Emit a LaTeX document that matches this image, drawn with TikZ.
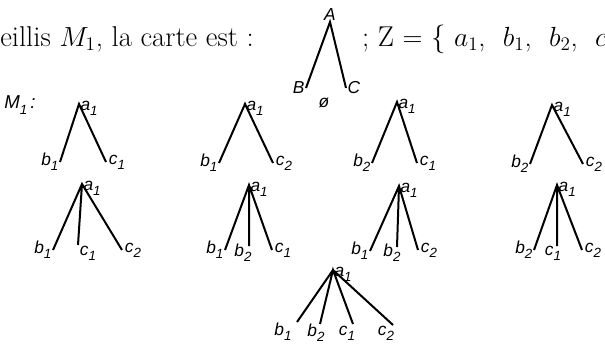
\documentclass[tikz,border=0pt]{standalone}
\usepackage{fontspec}
\usepackage{amsmath}
\usetikzlibrary{positioning}
\newfontfamily\plume{Liberation Sans}
\newcommand\sommet[2]{#1\raisebox{-0.55ex}{\fontsize{10}{10}\selectfont #2}}

\begin{document}
\begin{tikzpicture}[
    x=0.75pt,y=-0.75pt,
    arete/.style = {line width=1.5pt},
    et/.style    = {font=\fontsize{13}{13}\selectfont\plume\itshape, inner sep=0pt},
    texte/.style = {font=\fontsize{21.5}{24}\selectfont, inner sep=0pt},
  ]
  \useasboundingbox (0,0) rectangle (605,344);

  % ligne du haut
  \node[texte,anchor=base west] (gauche) at (0,46) {eillis $M_1$, la carte est :};
  \node[texte,anchor=base east] (droite) at (607,46)
       {;\ Z $=$ \{\ $a_1$,\ \ $b_1$,\ \ $b_2$,\ \ $c$};

  \coordinate (sA) at (330,22);
  \coordinate (sB) at (306,88);
  \coordinate (sC) at (346,88);
  \node[et,above=1pt of sA] (eA) {A};
  \node[et,left=1pt of sB]  (eB) {B};
  \node[et,right=1pt of sC] (eC) {C};
  \node[et] (vide) at (324,103) {ø};
  \draw[arete] (sB) -- (sA) -- (sC);

  \node[et,anchor=west,font=\fontsize{14}{14}\selectfont\plume\itshape] (m1) at (4,105)
       {\sommet{M}{1}\,:};

  % rangée 1
  \coordinate (s11) at (79,104);  \coordinate (s11b) at (60,162);  \coordinate (s11c) at (106,162);
  \coordinate (s12) at (245,104); \coordinate (s12b) at (219,163); \coordinate (s12c) at (273,163);
  \coordinate (s13) at (397,102); \coordinate (s13b) at (372,163); \coordinate (s13c) at (417,163);
  \coordinate (s14) at (552,105); \coordinate (s14b) at (530,164); \coordinate (s14c) at (583,164);

  \node[et,left=1pt of s11b]  (e11b) {\sommet{b}{1}};
  \node[et,right=2pt of s11c] (e11c) {\sommet{c}{1}};
  \node[et,left=1pt of s12b]  (e12b) {\sommet{b}{1}};
  \node[et,right=2pt of s12c] (e12c) {\sommet{c}{2}};
  \node[et,left=1pt of s13b]  (e13b) {\sommet{b}{2}};
  \node[et,right=2pt of s13c] (e13c) {\sommet{c}{1}};
  \node[et,left=1pt of s14b]  (e14b) {\sommet{b}{2}};
  \node[et,right=2pt of s14c] (e14c) {\sommet{c}{2}};

  % rangée 2
  \coordinate (s21) at (82,184);
  \coordinate (s21b) at (53,250); \coordinate (s21c) at (78,245); \coordinate (s21d) at (122,250);
  \coordinate (s22) at (249,185);
  \coordinate (s22b) at (225,250); \coordinate (s22c) at (249,246); \coordinate (s22d) at (272,250);
  \coordinate (s23) at (399,186);
  \coordinate (s23b) at (370,251); \coordinate (s23c) at (397,247); \coordinate (s23d) at (418,250);
  \coordinate (s24) at (557,185);
  \coordinate (s24b) at (534,250); \coordinate (s24c) at (557,246); \coordinate (s24d) at (582,250);

  \node[et,left=1pt of s21b]  (e21b) {\sommet{b}{1}};
  \node[et] (e21c) at (88,253)       {\sommet{c}{1}};
  \node[et,right=2pt of s21d] (e21d) {\sommet{c}{2}};
  \node[et,left=1pt of s22b]  (e22b) {\sommet{b}{1}};
  \node[et] (e22c) at (243,253)      {\sommet{b}{2}};
  \node[et,right=2pt of s22d] (e22d) {\sommet{c}{1}};
  \node[et,left=1pt of s23b]  (e23b) {\sommet{b}{1}};
  \node[et] (e23c) at (392,253)      {\sommet{b}{2}};
  \node[et,right=2pt of s23d] (e23d) {\sommet{c}{2}};
  \node[et,left=1pt of s24b]  (e24b) {\sommet{b}{2}};
  \node[et] (e24c) at (553,253)      {\sommet{c}{1}};
  \node[et,right=2pt of s24d] (e24d) {\sommet{c}{2}};

  % rangée 3
  \coordinate (s3) at (333,270);
  \coordinate (s3b) at (297,322); \coordinate (s3c) at (320,324);
  \coordinate (s3d) at (353,324); \coordinate (s3e) at (393,325);
  \node[et] (e3b) at (283,332) {\sommet{b}{1}};
  \node[et] (e3c) at (316,333) {\sommet{b}{2}};
  \node[et] (e3d) at (347,333) {\sommet{c}{1}};
  \node[et] (e3e) at (386,333) {\sommet{c}{2}};

  % sommets a1
  \foreach \s in {s11,s12,s13,s14,s21,s22,s23,s24,s3}
    \node[et,right=1pt of \s,yshift=-3pt] (e\s) {\sommet{a}{1}};

  \foreach \s in {s11,s12,s13,s14} \draw[arete] (\s b) -- (\s) -- (\s c);
  \foreach \s in {s21,s22,s23,s24}
    \draw[arete] (\s b) -- (\s) -- (\s d) (\s) -- (\s c);
  \draw[arete] (s3b) -- (s3) -- (s3e) (s3c) -- (s3) -- (s3d);

\end{tikzpicture}
\end{document}
